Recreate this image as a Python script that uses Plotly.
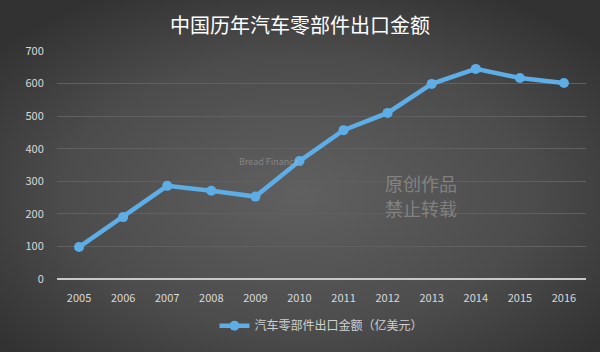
import plotly.graph_objects as go
import base64

years = ["2005", "2006", "2007", "2008", "2009", "2010", "2011", "2012", "2013", "2014", "2015", "2016"]
values = [98, 190, 286, 271, 253, 362, 457, 510, 599, 645, 617, 602]
series_name = "汽车零部件出口金额（亿美元）"
title_text = "中国历年汽车零部件出口金额"
y_ticks = [0, 100, 200, 300, 400, 500, 600, 700]

svg = """<svg xmlns='http://www.w3.org/2000/svg' width='600' height='352'>
<defs><radialGradient id='g' cx='50%' cy='55%' r='65%'>
<stop offset='0%' stop-color='#606060'/><stop offset='60%' stop-color='#4c4c4c'/><stop offset='100%' stop-color='#323232'/>
</radialGradient></defs><rect width='600' height='352' fill='url(#g)'/></svg>"""
bg_uri = "data:image/svg+xml;base64," + base64.b64encode(svg.encode()).decode()

fig = go.Figure()
fig.add_trace(go.Scatter(
    x=years, y=values, mode="lines+markers", name=series_name,
    line=dict(color="#5dade6", width=4.5),
    marker=dict(color="#5dade6", size=10),
))

fig.update_layout(
    width=600, height=352,
    margin=dict(l=57, r=14, t=51, b=73),
    paper_bgcolor="#404040", plot_bgcolor="rgba(0,0,0,0)",
    font=dict(family="Noto Sans CJK SC, sans-serif", color="#d9d9d9", size=11),
    title=dict(text=title_text, x=0.5, xanchor="center", y=0.925, yanchor="middle",
               font=dict(size=20, color="#ffffff", family="Noto Sans CJK SC")),
    showlegend=True,
    legend=dict(orientation="h", x=0.5, xanchor="center", y=-0.205, yanchor="middle",
                font=dict(size=12, color="#d0d0d0"), bgcolor="rgba(0,0,0,0)"),
    images=[dict(source=bg_uri, xref="paper", yref="paper", x=-57/529, y=1+51/228,
                 sizex=600/529, sizey=352/228,
                 xanchor="left", yanchor="top", layer="below", sizing="stretch")],
)

fig.update_xaxes(type="category", range=[-0.5, 11.5], showgrid=False, zeroline=False,
                 showline=False, ticks="outside", ticklen=9, tickcolor="rgba(0,0,0,0)",
                 tickfont=dict(size=11, color="#d9d9d9"))
fig.update_yaxes(range=[0, 700], tickvals=y_ticks, showgrid=True, gridcolor="#606060", gridwidth=1,
                 zeroline=True, zerolinecolor="#c8c8c8", zerolinewidth=2,
                 showline=False, ticks="outside", ticklen=10, tickcolor="rgba(0,0,0,0)",
                 tickfont=dict(size=11, color="#d9d9d9"))

# faint watermark text
for txt, x, y, sz in [("Bread Finance", 0.40, 0.517, 9), ("原创作品", 0.688, 0.42, 18), ("禁止转载", 0.688, 0.31, 18)]:
    fig.add_annotation(text=txt, xref="paper", yref="paper", x=x, y=y, showarrow=False,
                       font=dict(size=sz, color="rgba(200,200,200,0.4)"), xanchor="center", yanchor="middle")

fig.write_html("out.html")
